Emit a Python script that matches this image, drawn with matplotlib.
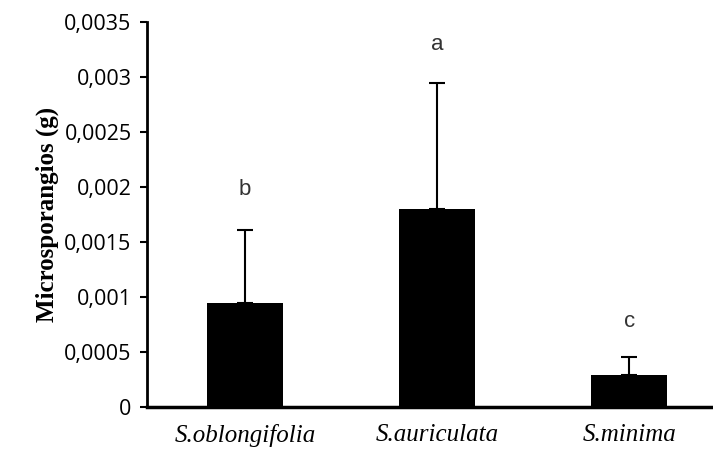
import matplotlib.pyplot as plt
import numpy as np
from matplotlib.ticker import FuncFormatter

species = ["S.oblongifolia", "S.auriculata", "S.minima"]
means = [0.00095, 0.0018, 0.00029]
errors = [0.00066, 0.00115, 0.000165]
letters = ["b", "a", "c"]
letter_y = [0.00198, 0.00330, 0.00078]

fig = plt.figure(figsize=(7.13, 4.54), dpi=100)
ax = fig.add_axes([0.206, 0.1035, 0.794, 0.848])

x = np.arange(len(species))
ax.bar(x, means, width=0.395, color="black")
ax.errorbar(x, means, yerr=[np.zeros(3), errors], fmt="none",
            ecolor="black", elinewidth=1.5, capsize=6, capthick=1.5)

for xi, lab, ly in zip(x, letters, letter_y):
    ax.text(xi, ly, lab, ha="center", va="center", fontsize=16,
            family="Liberation Sans", color="#333333")

ax.set_xlim(-0.51, 2.435)
ax.set_ylim(0, 0.0035)
ax.set_yticks(np.arange(0, 0.00351, 0.0005))
ax.yaxis.set_major_formatter(FuncFormatter(
    lambda v, p: "0" if v == 0 else f"{v:.4f}".rstrip("0").replace(".", ",")))

ax.set_xticks(x)
ax.set_xticklabels(species, family="Liberation Serif", style="italic", fontsize=18)
ax.tick_params(axis="x", length=0, pad=12)
ax.tick_params(axis="y", direction="out", length=5, width=1.5, labelsize=15.5, pad=6)
for t in ax.get_yticklabels():
    t.set_family("Open Sans")

ax.set_ylabel("Microsporangios (g)", family="Liberation Serif", fontweight="bold",
              fontsize=18, labelpad=4)

for s in ["top", "right"]:
    ax.spines[s].set_visible(False)
ax.spines["left"].set_linewidth(2)
ax.spines["bottom"].set_linewidth(2.5)

fig.savefig("out.png", dpi=100)
